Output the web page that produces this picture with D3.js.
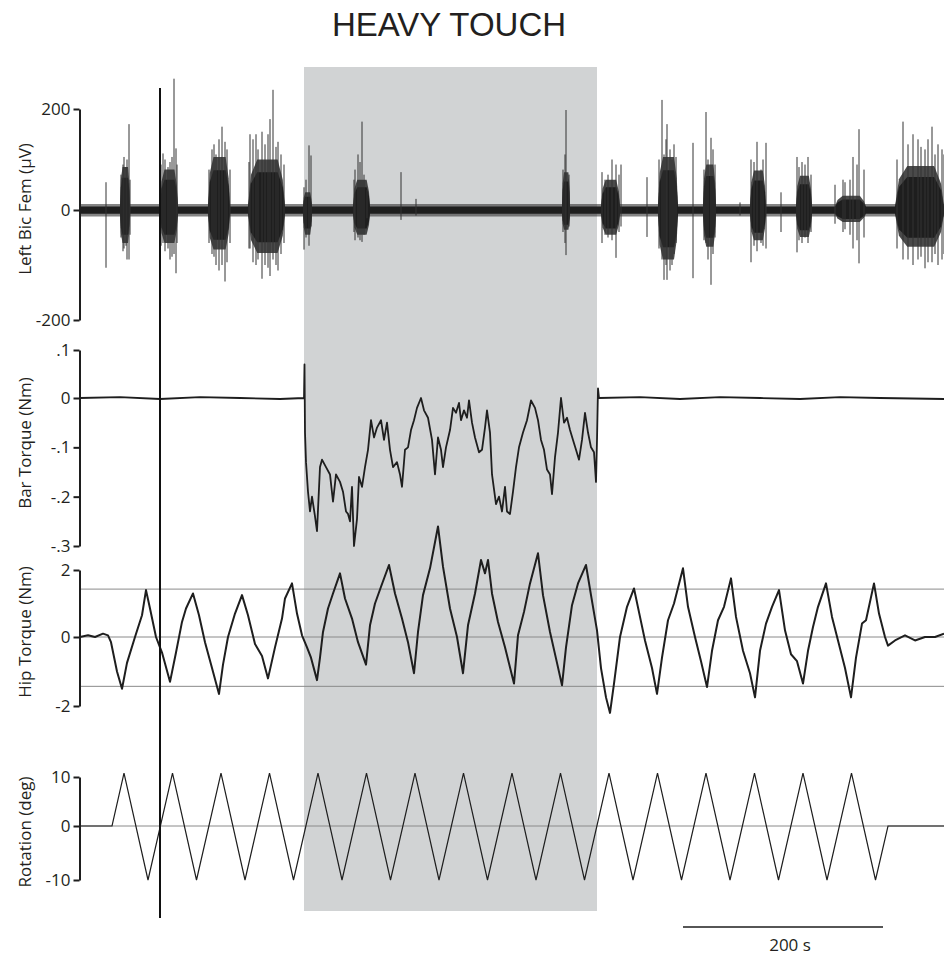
<!DOCTYPE html>
<html><head><meta charset="utf-8">
<script src="https://cdn.jsdelivr.net/npm/d3@7"></script>
<style>body{margin:0;background:#fff}</style>
</head><body><svg id="c" width="944" height="956"></svg>
<script>
// ---------- DATA ----------
const titleText = "HEAVY TOUCH";
const panelLabels = ["Left Bic Fem (\u00b5V)", "Bar Torque (Nm)", "Hip Torque (Nm)", "Rotation (deg)"];
const emgTicks = [200, 0, -200];
const emgTickLabels = ["200", "0", "-200"];
const barTicks = [0.1, 0, -0.1, -0.2, -0.3];
const barTickLabels = [".1", "0", "-.1", "-.2", "-.3"];
const hipTicks = [2, 0, -2];
const hipTickLabels = ["2", "0", "-2"];
const rotTicks = [10, 0, -10];
const rotTickLabels = ["10", "0", "-10"];
const hipRefLines = [1.43, 0, -1.43];
const rotRefLines = [0];
const shadeStart = 224, shadeEnd = 517;   // s
const markerTime = 80;                    // s
const scaleBarStart = 603, scaleBarLen = 200, scaleBarLabel = "200 s";

// EMG (µV): baseline noise amplitude, bursts (dense envelope) and single spikes
const emgNoise = 7, emgFuzz = 12;
const emgBurstStart = [40, 80, 128, 168, 223, 273, 482, 521, 578, 623, 670, 716, 755, 815];
const emgBurstEnd   = [50, 98, 150, 205, 232, 290, 490, 540, 598, 636, 686, 732, 786, 864];
const emgBurstUp    = [85, 80, 105, 100, 35, 60, 75, 60, 105, 90, 78, 68, 28, 87];
const emgBurstDown  = [60, 60, 72, 78, 45, 45, 36, 45, 90, 67, 55, 49, 22, 67];
const emgSpikeT    = [26, 44, 47, 49, 83, 90, 94, 96, 132, 136, 142, 145, 170, 176, 182, 190, 193, 198, 201,
                      224, 229, 231, 275, 278, 282, 287, 321, 336, 483, 486, 489,
                      522, 525, 532, 536, 541, 567, 582, 584, 587, 592, 596, 613, 626, 628, 631, 635, 660,
                      671, 677, 681, 686, 701, 717, 722, 728, 731, 755, 763, 773, 779, 784,
                      823, 833, 838, 845, 852, 858, 862,
                      41, 43, 46, 50, 81, 85, 88, 92, 97, 129, 134, 139, 147, 150,
                      169, 173, 178, 185, 188, 196, 204, 226, 274, 280, 284, 485, 528, 539,
                      579, 586, 590, 594, 624, 633, 674, 683, 719, 725, 765, 770, 777,
                      817, 828, 841, 848, 855, 864];
const emgSpikeUp   = [55, 105, 100, 170, 112, 95, 260, 122, 120, 110, 165, 135, 150, 150, 155, 180, 238, 135, 110,
                      45, 128, 108, 80, 110, 175, 40, 75, 22, 80, 198, 70,
                      75, 60, 100, 90, 90, 65, 218, 110, 170, 100, 105, 133, 194, 100, 143, 90, 15,
                      100, 135, 80, 133, 35, 105, 95, 105, 70, 50, 60, 105, 160, 80,
                      175, 150, 140, 120, 165, 130, 120,
                      70, 90, 85, 60, 90, 100, 85, 105, 90, 80, 130, 140, 120, 80,
                      95, 140, 120, 130, 150, 125, 90, 60, 60, 95, 70, 110, 70, 70,
                      100, 140, 120, 130, 80, 120, 95, 100, 85, 90, 55, 60, 90,
                      100, 130, 125, 140, 110, 110];
const emgSpikeDown = [105, 70, 90, 90, 60, 90, 80, 115, 80, 100, 100, 130, 70, 100, 125, 120, 90, 110, 80,
                      72, 65, 30, 55, 50, 58, 15, 18, 10, 40, 82, 30,
                      60, 45, 55, 87, 30, 49, 90, 127, 127, 100, 60, 124, 60, 90, 136, 50, 10,
                      95, 75, 60, 70, 40, 77, 60, 60, 40, 25, 40, 70, 97, 50,
                      90, 100, 90, 106, 95, 100, 90,
                      50, 75, 65, 45, 65, 75, 70, 85, 60, 60, 85, 110, 95, 60,
                      70, 95, 90, 100, 105, 100, 60, 50, 40, 55, 45, 60, 50, 40,
                      70, 100, 110, 80, 55, 80, 65, 65, 55, 50, 35, 45, 55,
                      70, 90, 85, 95, 80, 80];

// Bar torque (Nm)
const barT = [0,40,80,120,160,200,224,224.5,225,226,228,230,232,235,237,240,242,246,250,253,256,260,263,266,268,270,272,274,277,279,282,285,288,291,294,297,301,304,307,310,313,317,320,322,325,328,331,334,337,341,344,348,352,355,358,361,363,366,370,373,376,379,381,384,387,389,392,395,399,402,405,407,410,412,416,419,422,425,427,430,433,436,439,443,447,451,455,458,461,464,467,470,472,475,478,481,484,487,490,493,496,499,502,505,508,511,514,516,517,518,519,560,600,640,680,720,760,800,864];
const barV = [0,0.002,-0.002,0.002,0,-0.002,0,0.07,-0.07,-0.13,-0.19,-0.23,-0.2,-0.24,-0.27,-0.14,-0.125,-0.14,-0.155,-0.21,-0.155,-0.17,-0.19,-0.23,-0.235,-0.25,-0.18,-0.3,-0.245,-0.16,-0.18,-0.14,-0.105,-0.045,-0.08,-0.06,-0.045,-0.085,-0.05,-0.105,-0.14,-0.13,-0.155,-0.18,-0.105,-0.1,-0.065,-0.045,-0.02,0.0,-0.025,-0.04,-0.085,-0.155,-0.08,-0.105,-0.14,-0.1,-0.065,-0.02,-0.03,-0.01,-0.045,-0.025,-0.04,-0.005,-0.05,-0.08,-0.11,-0.105,-0.06,-0.025,-0.07,-0.155,-0.215,-0.2,-0.23,-0.18,-0.23,-0.235,-0.19,-0.14,-0.1,-0.07,-0.045,-0.005,-0.02,-0.045,-0.085,-0.105,-0.145,-0.155,-0.195,-0.12,-0.07,0.0,-0.05,-0.04,-0.065,-0.085,-0.105,-0.125,-0.085,-0.03,-0.07,-0.1,-0.11,-0.17,-0.085,0.02,0,0.002,-0.002,0.002,0,-0.002,0.002,0,-0.002];

// Hip torque (Nm)
const hipT = [0,8,15,23,28,31,37,42,47,55,62,66,70,76,82,90,96,102,106,113,119,125,132,139,143,148,155,162,168,175,182,188,195,202,205,212,217,222,227,231,237,240,243,248,253,260,265,272,278,286,290,295,301,309,315,322,328,334,338,343,350,358,363,370,377,383,388,395,401,405,408,412,418,425,434,438,444,450,458,463,470,477,482,486,492,498,506,511,517,521,526,530,534,540,547,554,560,565,572,577,582,588,594,603,608,615,621,627,632,638,644,651,656,663,670,675,680,686,692,699,705,711,717,723,728,733,738,746,752,758,765,771,776,782,786,794,799,805,808,815,825,835,845,855,864];
const hipV = [0,0.05,0,0.1,0.05,-0.15,-1.0,-1.5,-0.75,0,0.65,1.4,0.85,0,-0.45,-1.3,-0.45,0.45,0.85,1.3,0.65,-0.15,-0.9,-1.65,-0.8,0,0.7,1.25,0.65,-0.2,-0.55,-1.2,-0.3,0.55,1.15,1.6,0.7,0.05,-0.3,-0.6,-1.25,-0.6,0.15,0.85,1.3,1.9,1.15,0.55,-0.15,-0.8,0.35,1.0,1.5,2.15,1.3,0.55,-0.15,-1.05,0.15,1.25,2.05,3.3,2.1,0.85,0,-1.05,0.35,1.3,2.3,1.9,2.3,1.3,0.45,-0.3,-1.35,0.05,0.75,1.6,2.5,1.25,0.15,-0.75,-1.4,-0.3,0.95,1.6,2.15,1.25,0.2,-0.9,-1.75,-2.2,-1.35,0,0.9,1.45,0.6,-0.1,-0.9,-1.65,-0.6,0.5,1.0,2.05,0.9,0,-0.7,-1.45,-0.4,0.5,0.9,1.75,0.6,-0.4,-1.05,-1.75,-0.4,0.4,0.9,1.4,0.2,-0.5,-0.7,-1.35,-0.4,0.3,0.9,1.6,0.6,-0.1,-0.9,-1.75,-0.6,0.4,0.5,1.6,0.7,0,-0.25,-0.1,0.05,-0.1,0,0,0.1];

// Rotation (deg)
const rotT = [0,32,44,68,92.5,116.5,141,165,189.5,213.5,238,262,286.5,310.5,335,359,383.5,407.5,432,456,480.5,504.5,529,553,577.5,601.5,626,650,674.5,698.5,723,747,771.5,795.5,808,864];
const rotV = [0,0,10.8,-10,10.8,-10,10.8,-10,10.8,-10,10.8,-10,10.8,-10,10.8,-10,10.8,-10,10.8,-10,10.8,-10,10.8,-10,10.8,-10,10.8,-10,10.8,-10,10.8,-10,10.8,-10,0,0];

// ---------- DRAW ----------
const svg = d3.select('#c');
const FONT = '"Open Sans", sans-serif';
const INK = '#1e1e1e';
const x = d3.scaleLinear().domain([0, 864]).range([80, 944]);
const yE = d3.scaleLinear().domain([-200, 0, 200]).range([320, 210, 109]);
const yB = d3.scaleLinear().domain([-0.3, 0, 0.1]).range([546, 398, 350]);
const yH = d3.scaleLinear().domain([-2, 0, 2]).range([706, 637, 570]);
const yR = d3.scaleLinear().domain([-10, 0, 10]).range([880, 826, 777]);

// title
svg.append('text').attr('x', 449).attr('y', 36).attr('text-anchor', 'middle')
  .style('font-family', '"Liberation Sans", Arial, sans-serif').style('font-size', '33px')
  .attr('fill', '#231f20').text(titleText);

// shaded region
svg.append('rect').attr('x', x(shadeStart)).attr('y', 67)
  .attr('width', x(shadeEnd) - x(shadeStart)).attr('height', 911 - 67)
  .attr('fill', '#d1d3d4');

// reference lines
svg.selectAll('.hipref').data(hipRefLines).join('line')
  .attr('x1', x(0)).attr('x2', x(864)).attr('y1', d => yH(d)).attr('y2', d => yH(d))
  .attr('stroke', '#8a8a8a').attr('stroke-width', 1);
svg.selectAll('.rotref').data(rotRefLines).join('line')
  .attr('x1', x(0)).attr('x2', x(864)).attr('y1', d => yR(d)).attr('y2', d => yR(d))
  .attr('stroke', '#8a8a8a').attr('stroke-width', 1);

// EMG
const gE = svg.append('g');
gE.append('path').datum([0, 864])
  .attr('d', d3.area().x(d => x(d)).y0(yE(-emgFuzz)).y1(yE(emgFuzz)))
  .attr('fill', '#333').attr('opacity', 0.6);
gE.append('path').datum([0, 864])
  .attr('d', d3.area().x(d => x(d)).y0(yE(-emgNoise)).y1(yE(emgNoise)))
  .attr('fill', INK);
const bursts = emgBurstStart.map((s, i) => {
  const e = emgBurstEnd[i], w = e - s, u = emgBurstUp[i], dn = emgBurstDown[i];
  return [
    {t: s, u: emgNoise, d: emgNoise},
    {t: s + w * 0.08, u: u * 0.7, d: dn * 0.7},
    {t: s + w * 0.25, u: u, d: dn},
    {t: e - w * 0.2, u: u, d: dn},
    {t: e - w * 0.06, u: u * 0.6, d: dn * 0.6},
    {t: e, u: emgNoise, d: emgNoise}
  ];
});
const burstArea = k => d3.area().curve(d3.curveLinear).x(d => x(d.t)).y0(d => yE(-d.d * k)).y1(d => yE(d.u * k));
gE.selectAll('.burstOuter').data(bursts).join('path')
  .attr('d', burstArea(1)).attr('fill', '#2a2a2a').attr('opacity', 0.85);
gE.selectAll('.burstCore').data(bursts).join('path')
  .attr('d', burstArea(0.75)).attr('fill', INK);
gE.selectAll('.spike').data(emgSpikeT.map((t, i) => ({t, u: emgSpikeUp[i], d: emgSpikeDown[i]}))).join('line')
  .attr('x1', d => x(d.t)).attr('x2', d => x(d.t))
  .attr('y1', d => yE(-d.d)).attr('y2', d => yE(d.u))
  .attr('stroke', '#333').attr('stroke-width', 1);

// Bar torque
svg.append('path').datum(barT.map((t, i) => [t, barV[i]]))
  .attr('d', d3.line().x(d => x(d[0])).y(d => yB(d[1])))
  .attr('fill', 'none').attr('stroke', INK).attr('stroke-width', 1.8).attr('stroke-linejoin', 'round');

// Hip torque
svg.append('path').datum(hipT.map((t, i) => [t, hipV[i]]))
  .attr('d', d3.line().x(d => x(d[0])).y(d => yH(d[1])))
  .attr('fill', 'none').attr('stroke', INK).attr('stroke-width', 2).attr('stroke-linejoin', 'round');

// Rotation
svg.append('path').datum(rotT.map((t, i) => [t, rotV[i]]))
  .attr('d', d3.line().x(d => x(d[0])).y(d => yR(d[1])))
  .attr('fill', 'none').attr('stroke', INK).attr('stroke-width', 1.2);

// axes
function drawAxis(scale, ticks, labels, label, labelY) {
  const g = svg.append('g').attr('transform', 'translate(79.5,0)')
    .call(d3.axisLeft(scale).tickValues(ticks).tickFormat((d, i) => labels[i]).tickSize(6).tickSizeOuter(0).tickPadding(3));
  g.select('.domain').attr('stroke', INK).attr('stroke-width', 2);
  g.selectAll('.tick line').attr('stroke', INK).attr('stroke-width', 2);
  g.selectAll('.tick text').style('font-family', FONT).style('font-size', '17px').attr('fill', '#231f20');
  svg.append('text').attr('transform', `translate(31,${labelY}) rotate(-90)`)
    .attr('text-anchor', 'middle').style('font-family', FONT).style('font-size', '17px')
    .attr('fill', '#231f20').text(label);
}
drawAxis(yE, emgTicks, emgTickLabels, panelLabels[0], 209);
drawAxis(yB, barTicks, barTickLabels, panelLabels[1], 443);
drawAxis(yH, hipTicks, hipTickLabels, panelLabels[2], 632);
drawAxis(yR, rotTicks, rotTickLabels, panelLabels[3], 832);

// vertical marker
svg.append('line').attr('x1', x(markerTime)).attr('x2', x(markerTime)).attr('y1', 88).attr('y2', 918)
  .attr('stroke', '#111').attr('stroke-width', 2);

// scale bar
svg.append('line').attr('x1', x(scaleBarStart)).attr('x2', x(scaleBarStart + scaleBarLen))
  .attr('y1', 927).attr('y2', 927).attr('stroke', INK).attr('stroke-width', 1.5);
svg.append('text').attr('x', x(scaleBarStart + scaleBarLen / 2) + 7).attr('y', 951)
  .attr('text-anchor', 'middle').style('font-family', FONT).style('font-size', '17px')
  .attr('fill', '#231f20').text(scaleBarLabel);
</script></body></html>
